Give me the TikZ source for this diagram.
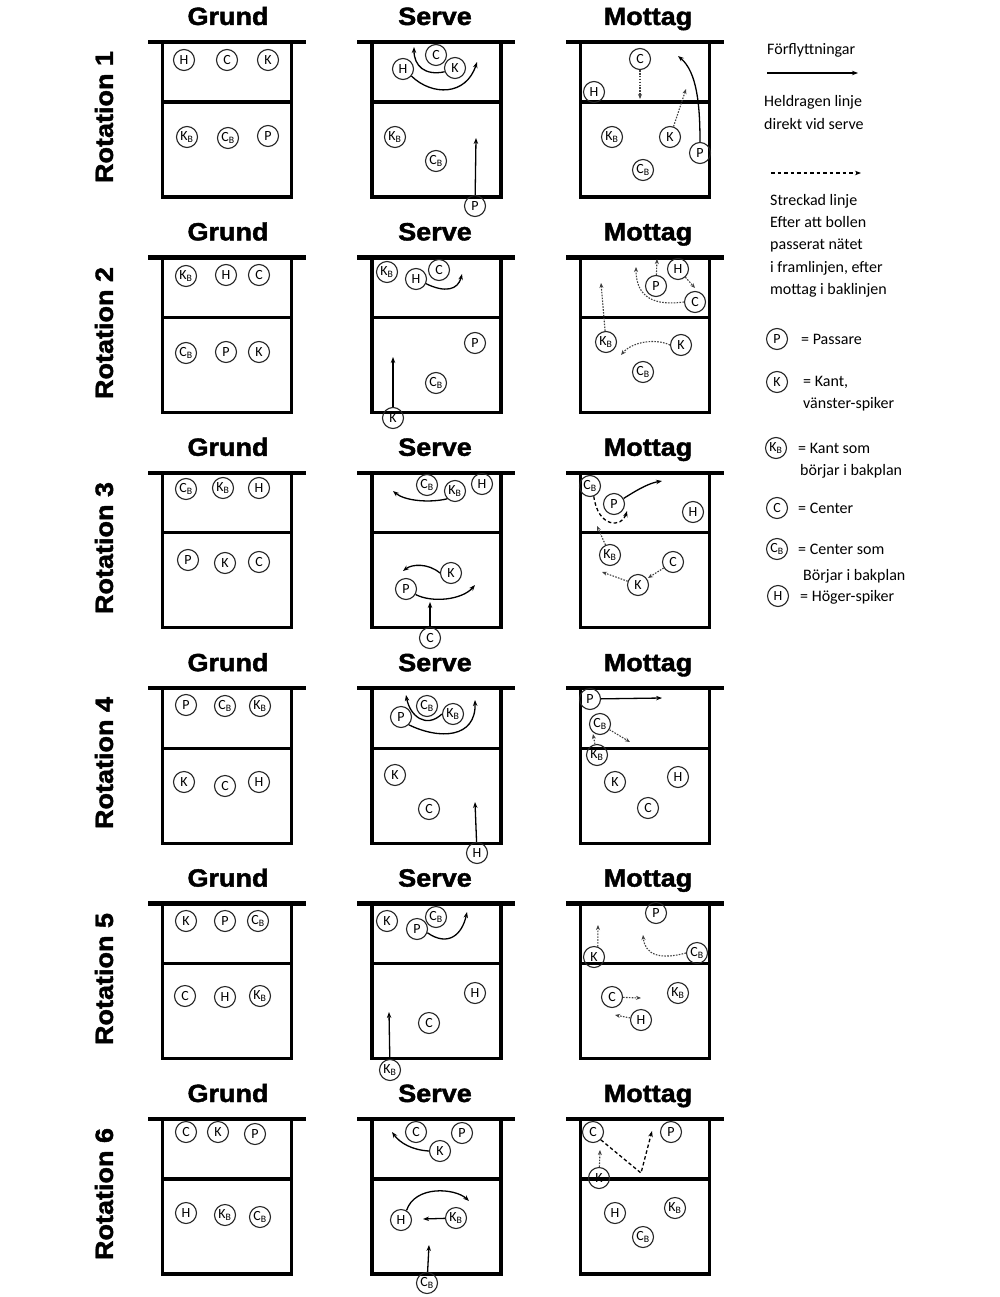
\documentclass[tikz,border=0pt]{standalone}
\usepackage{fontspec}
\setmainfont{Carlito}
\newfontfamily\hdrfont{Liberation Sans Bold}[FakeBold=1.6]
\usetikzlibrary{arrows.meta}
\newcommand{\Kb}{K\textsubscript{B}}
\newcommand{\Cb}{C\textsubscript{B}}
\newcommand{\court}[2]{%
  \draw[crt] ({#1-64.5},#2) -- ({#1-64.5},{#2+155}) -- ({#1+64.5},{#2+155}) -- ({#1+64.5},#2);
  \draw[crt] ({#1-64.5},{#2+60}) -- ({#1+64.5},{#2+60});
  \draw[netl] ({#1-79},#2) -- ({#1+79},#2);}
\begin{document}
\begin{tikzpicture}[x=1pt,y=-1pt,
  pl/.style={circle, draw=black!85, line width=1.1pt, minimum size=21pt, inner sep=0pt, font=\fontsize{14}{14}\selectfont},
  crt/.style={line width=3.2pt},
  netl/.style={line width=4.4pt},
  mv/.style={-{Stealth[length=6pt,width=4.5pt]}, line width=1.3pt},
  dt/.style={-{Stealth[length=5pt,width=4pt]}, line width=1.1pt, dash pattern=on 1.6pt off 1.3pt, black!75},
  ds/.style={-{Stealth[length=6pt,width=4.5pt]}, line width=1.3pt, dash pattern=on 3.5pt off 2.5pt},
  hd/.style={font=\hdrfont\fontsize{25}{25}\selectfont, inner sep=0pt},
  lg/.style={font=\fontsize{16}{16}\selectfont, anchor=base west, inner sep=0pt}]
\useasboundingbox[fill=white] (0,0) rectangle (1000,1297);

\foreach \k in {0,...,5}{
  \pgfmathsetmacro\ty{42+215.4*\k}
  \court{227}{\ty}
  \court{436.4}{\ty}
  \court{645}{\ty}
  \node[hd, anchor=base] (gr\k) at (228,{25+215.4*\k}) {\scalebox{1.08}[1]{Grund}};
  \node[hd, anchor=base] (se\k) at (435,{25+215.4*\k}) {\scalebox{1.08}[1]{Serve}};
  \node[hd, anchor=base] (mo\k) at (648,{25+215.4*\k}) {\scalebox{1.08}[1]{Mottag}};
}
\node[hd, rotate=90] (rot1) at (104,117) {\scalebox{1.08}[1]{Rotation 1}};
\node[hd, rotate=90] (rot2) at (104,333) {\scalebox{1.08}[1]{Rotation 2}};
\node[hd, rotate=90] (rot3) at (104,548) {\scalebox{1.08}[1]{Rotation 3}};
\node[hd, rotate=90] (rot4) at (104,763) {\scalebox{1.08}[1]{Rotation 4}};
\node[hd, rotate=90] (rot5) at (104,979) {\scalebox{1.08}[1]{Rotation 5}};
\node[hd, rotate=90] (rot6) at (104,1194) {\scalebox{1.08}[1]{Rotation 6}};

% ---------- Rotation 1 ----------
\node[pl] (r1gH) at (184,60) {H};
\node[pl] (r1gC) at (227,60) {C};
\node[pl] (r1gK) at (268,60) {K};
\node[pl] (r1gKB) at (187,137) {\Kb};
\node[pl] (r1gCB) at (228,138) {\Cb};
\node[pl] (r1gP) at (268,136) {P};
\node[pl] (r1sH) at (403,69) {H};
\node[pl] (r1sC) at (436,55) {C};
\node[pl] (r1sK) at (455,68) {K};
\node[pl] (r1sKB) at (395,137) {\Kb};
\node[pl] (r1sCB) at (436,161) {\Cb};
\node[pl] (r1sP) at (475,206) {P};
\coordinate (r1sa) at (477,62);
\coordinate (r1sb) at (414,47);
\coordinate (r1sc) at (476,138);
\draw[mv] (r1sH.-40) .. controls (432,96) and (466,96) .. (r1sa);
\draw[mv] (r1sK.200) .. controls (425,76) and (414,66) .. (r1sb);
\draw[mv] (r1sP) -- (r1sc);
\node[pl] (r1mC) at (640,59) {C};
\node[pl] (r1mH) at (594,92) {H};
\node[pl] (r1mKB) at (612,137) {\Kb};
\node[pl] (r1mK) at (670,137) {K};
\node[pl] (r1mP) at (700,153) {P};
\node[pl] (r1mCB) at (643,170) {\Cb};
\coordinate (r1ma) at (640,99);
\coordinate (r1mb) at (686,89);
\coordinate (r1mc) at (678,56);
\draw[dt] (r1mC) -- (r1ma);
\draw[dt] (r1mK) -- (r1mb);
\draw[mv] (r1mP.north) .. controls (700,105) and (697,72) .. (r1mc);

% ---------- Rotation 2 ----------
\node[pl] (r2gKB) at (186,276) {\Kb};
\node[pl] (r2gH) at (226,275) {H};
\node[pl] (r2gC) at (259,275) {C};
\node[pl] (r2gCB) at (186,353) {\Cb};
\node[pl] (r2gP) at (226,352) {P};
\node[pl] (r2gK) at (259,352) {K};
\node[pl] (r2sKB) at (387,272) {\Kb};
\node[pl] (r2sH) at (416,279) {H};
\node[pl] (r2sC) at (439,270) {C};
\node[pl] (r2sP) at (475,343) {P};
\node[pl] (r2sCB) at (436,383) {\Cb};
\node[pl] (r2sK) at (393,418) {K};
\coordinate (r2sa) at (462,274);
\coordinate (r2sb) at (393,357);
\draw[mv] (r2sH.-25) .. controls (445,293) and (458,290) .. (r2sa);
\draw[mv] (r2sK) -- (r2sb);
\node[pl] (r2mH) at (678,269) {H};
\node[pl] (r2mP) at (656,286) {P};
\node[pl] (r2mC) at (695,302) {C};
\node[pl] (r2mKB) at (606,342) {\Kb};
\node[pl] (r2mK) at (681,345) {K};
\node[pl] (r2mCB) at (643,372) {\Cb};
\coordinate (r2ma) at (657,259);
\coordinate (r2mb) at (695,288);
\coordinate (r2mc) at (636,267);
\coordinate (r2md) at (601,283);
\coordinate (r2me) at (621,355);
\draw[dt] (r2mP) -- (r2ma);
\draw[dt] (r2mH) -- (r2mb);
\draw[dt] (r2mC.west) .. controls (655,306) and (636,298) .. (r2mc);
\draw[dt] (r2mKB) -- (r2md);
\draw[dt] (r2mK.west) .. controls (655,338) and (632,342) .. (r2me);

% ---------- Rotation 3 ----------
\node[pl] (r3gCB) at (186,489) {\Cb};
\node[pl] (r3gKB) at (223,488) {\Kb};
\node[pl] (r3gH) at (259,488) {H};
\node[pl] (r3gP) at (188,560) {P};
\node[pl] (r3gK) at (225,563) {K};
\node[pl] (r3gC) at (259,562) {C};
\node[pl] (r3sCB) at (427,485) {\Cb};
\node[pl] (r3sKB) at (455,491) {\Kb};
\node[pl] (r3sH) at (482,484) {H};
\node[pl] (r3sK) at (451,573) {K};
\node[pl] (r3sP) at (406,589) {P};
\node[pl] (r3sC) at (430,638) {C};
\coordinate (r3sa) at (393,491);
\coordinate (r3sb) at (403,571);
\coordinate (r3sc) at (475,585);
\coordinate (r3sd) at (430,602);
\draw[mv] (r3sKB.south west) .. controls (430,503) and (405,501) .. (r3sa);
\draw[mv] (r3sK.west) .. controls (428,563) and (412,564) .. (r3sb);
\draw[mv] (r3sP.-30) .. controls (432,603) and (462,600) .. (r3sc);
\draw[mv] (r3sC) -- (r3sd);
\node[pl] (r3mCB) at (590,486) {\Cb};
\node[pl] (r3mP) at (614,504) {P};
\node[pl] (r3mH) at (693,512) {H};
\node[pl] (r3mKB) at (610,555) {\Kb};
\node[pl] (r3mC) at (673,562) {C};
\node[pl] (r3mK) at (638,585) {K};
\coordinate (r3ma) at (662,481);
\coordinate (r3mb) at (627,511);
\coordinate (r3mc) at (597,526);
\coordinate (r3md) at (648,578);
\coordinate (r3me) at (602,572);
\draw[mv] (r3mP.30) .. controls (640,488) and (650,483) .. (r3ma);
\draw[ds] (r3mCB.-70) .. controls (598,528) and (622,528) .. (r3mb);
\draw[dt] (r3mKB) -- (r3mc);
\draw[dt] (r3mC) -- (r3md);
\draw[dt] (r3mK) -- (r3me);

% ---------- Rotation 4 ----------
\node[pl] (r4gP) at (186,705) {P};
\node[pl] (r4gCB) at (225,706) {\Cb};
\node[pl] (r4gKB) at (260,706) {\Kb};
\node[pl] (r4gK) at (184,782) {K};
\node[pl] (r4gC) at (225,786) {C};
\node[pl] (r4gH) at (259,782) {H};
\node[pl] (r4sCB) at (427,706) {\Cb};
\node[pl] (r4sP) at (401,717) {P};
\node[pl] (r4sKB) at (453,714) {\Kb};
\node[pl] (r4sK) at (395,775) {K};
\node[pl] (r4sC) at (429,809) {C};
\node[pl] (r4sH) at (477,853) {H};
\coordinate (r4sa) at (406,695);
\coordinate (r4sb) at (475,700);
\coordinate (r4sc) at (475,802);
\draw[mv] (r4sKB.west) .. controls (426,729) and (410,716) .. (r4sa);
\draw[mv] (r4sP.-45) .. controls (440,740) and (476,738) .. (r4sb);
\draw[mv] (r4sH) -- (r4sc);
\node[pl] (r4mP) at (590,699) {P};
\node[pl] (r4mCB) at (600,724) {\Cb};
\node[pl] (r4mKB) at (597,755) {\Kb};
\node[pl] (r4mK) at (615,782) {K};
\node[pl] (r4mH) at (678,777) {H};
\node[pl] (r4mC) at (648,808) {C};
\coordinate (r4ma) at (662,698);
\coordinate (r4mb) at (630,742);
\coordinate (r4mc) at (593,734);
\draw[mv] (r4mP) -- (r4ma);
\draw[dt] (r4mCB) -- (r4mb);
\draw[dt] (r4mKB) -- (r4mc);

% ---------- Rotation 5 ----------
\node[pl] (r5gK) at (186,921) {K};
\node[pl] (r5gP) at (225,921) {P};
\node[pl] (r5gCB) at (258,921) {\Cb};
\node[pl] (r5gC) at (185,996) {C};
\node[pl] (r5gH) at (225,997) {H};
\node[pl] (r5gKB) at (260,996) {\Kb};
\node[pl] (r5sK) at (387,921) {K};
\node[pl] (r5sP) at (417,929) {P};
\node[pl] (r5sCB) at (436,917) {\Cb};
\node[pl] (r5sH) at (475,993) {H};
\node[pl] (r5sC) at (429,1023) {C};
\node[pl] (r5sKB) at (390,1070) {\Kb};
\coordinate (r5sa) at (467,912);
\coordinate (r5sb) at (389,1012);
\draw[mv] (r5sP.-20) .. controls (448,947) and (462,935) .. (r5sa);
\draw[mv] (r5sKB) -- (r5sb);
\node[pl] (r5mP) at (656,913) {P};
\node[pl] (r5mK) at (594,957) {K};
\node[pl] (r5mCB) at (697,953) {\Cb};
\node[pl] (r5mC) at (612,997) {C};
\node[pl] (r5mKB) at (678,993) {\Kb};
\node[pl] (r5mH) at (641,1020) {H};
\coordinate (r5ma) at (598,925);
\coordinate (r5mb) at (643,935);
\coordinate (r5mc) at (641,998);
\coordinate (r5md) at (615,1015);
\draw[dt] (r5mK.70) -- (r5ma);
\draw[dt] (r5mCB.west) .. controls (660,960) and (645,955) .. (r5mb);
\draw[dt] (r5mC) -- (r5mc);
\draw[dt] (r5mH) -- (r5md);

% ---------- Rotation 6 ----------
\node[pl] (r6gC) at (186,1132) {C};
\node[pl] (r6gK) at (218,1132) {K};
\node[pl] (r6gP) at (255,1134) {P};
\node[pl] (r6gH) at (186,1213) {H};
\node[pl] (r6gKB) at (225,1215) {\Kb};
\node[pl] (r6gCB) at (260,1217) {\Cb};
\node[pl] (r6sC) at (416,1132) {C};
\node[pl] (r6sP) at (462,1133) {P};
\node[pl] (r6sK) at (440,1151) {K};
\node[pl] (r6sH) at (401,1220) {H};
\node[pl] (r6sKB) at (456,1218) {\Kb};
\node[pl] (r6sCB) at (427,1283) {\Cb};
\coordinate (r6sa) at (392,1132);
\coordinate (r6sb) at (423,1219);
\coordinate (r6sc) at (469,1201);
\coordinate (r6sd) at (429,1245);
\draw[mv] (r6sK.west) .. controls (412,1150) and (400,1143) .. (r6sa);
\draw[mv] (r6sKB) -- (r6sb);
\draw[mv] (r6sH.60) .. controls (415,1185) and (455,1188) .. (r6sc);
\draw[mv] (r6sCB) -- (r6sd);
\node[pl] (r6mC) at (593,1132) {C};
\node[pl] (r6mP) at (671,1132) {P};
\node[pl] (r6mK) at (599,1178) {K};
\node[pl] (r6mH) at (615,1213) {H};
\node[pl] (r6mKB) at (675,1208) {\Kb};
\node[pl] (r6mCB) at (643,1237) {\Cb};
\coordinate (r6ma) at (641,1173);
\coordinate (r6mb) at (652,1131);
\coordinate (r6mc) at (600,1150);
\draw[ds] (r6mC.-45) -- (r6ma) -- (r6mb);
\draw[dt] (r6mK) -- (r6mc);

% ---------- Legend ----------
\node[lg] (l1) at (767,55) {Förflyttningar};
\coordinate (la1) at (767,73);
\coordinate (la2) at (858,73);
\draw[mv] (la1) -- (la2);
\node[lg] (l2) at (764,107) {Heldragen linje};
\node[lg] (l3) at (764,130) {direkt vid serve};
\coordinate (lb1) at (771,173);
\coordinate (lb2) at (861,173);
\draw[-{Stealth[length=6pt,width=4.5pt]}, line width=1.2pt, dash pattern=on 3.5pt off 3pt] (lb1) -- (lb2);
\node[lg] (l4) at (770,206) {Streckad linje};
\node[lg] (l5) at (770,228) {Efter att bollen};
\node[lg] (l6) at (770,250) {passerat nätet};
\node[lg] (l7) at (770,272) {i framlinjen, efter};
\node[lg] (l8) at (770,294) {mottag i baklinjen};
\node[pl] (lgP) at (777,339) {P};
\node[lg] (l9) at (801,344) {= Passare};
\node[pl] (lgK) at (777,382) {K};
\node[lg] (l10) at (803,386) {= Kant,};
\node[lg] (l11) at (803,408) {vänster-spiker};
\node[pl] (lgKB) at (776,448) {\Kb};
\node[lg] (l12) at (798,453) {= Kant som};
\node[lg] (l13) at (800,475) {börjar i bakplan};
\node[pl] (lgC) at (777,508) {C};
\node[lg] (l14) at (798,513) {= Center};
\node[pl] (lgCB) at (777,549) {\Cb};
\node[lg] (l15) at (798,554) {= Center som};
\node[lg] (l16) at (803,580) {Börjar i bakplan};
\node[pl] (lgH) at (778,596) {H};
\node[lg] (l17) at (800,601) {= Höger-spiker};
\end{tikzpicture}
\end{document}
